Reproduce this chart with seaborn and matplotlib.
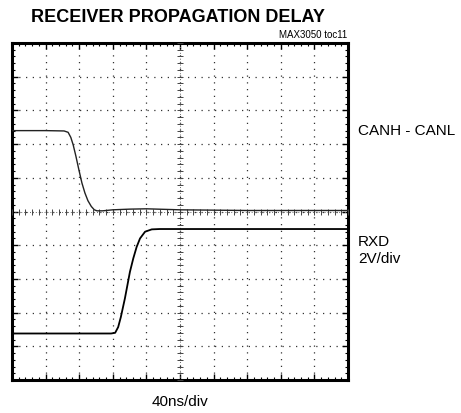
import matplotlib
matplotlib.use("Agg")
import matplotlib.pyplot as plt
import numpy as np
import pandas as pd
import seaborn as sns

# scope screen in divisions: x 0..10 (40ns/div), y -5..5
TIME_CANH = [0, 1.0, 1.55, 1.67, 1.75, 1.82, 1.90, 1.99, 2.08, 2.17, 2.26,
             2.36, 2.45, 2.53, 2.7, 3.0, 3.5, 4.0, 5.0, 6.0, 7.0, 8.0, 9.0, 10.0]
CANH_CANL = [2.40, 2.40, 2.39, 2.35, 2.20, 1.98, 1.65, 1.24, 0.85, 0.55, 0.32,
             0.15, 0.05, 0.02, 0.02, 0.05, 0.07, 0.08, 0.05, 0.04, 0.03, 0.03, 0.03, 0.03]

TIME_RXD = [0, 2.5, 2.95, 3.07, 3.16, 3.24, 3.36, 3.51, 3.61, 3.71, 3.81,
            3.96, 4.16, 4.4, 5, 6, 7, 8, 9, 10]
RXD = [-3.62, -3.62, -3.62, -3.60, -3.43, -3.13, -2.58, -1.79, -1.39, -1.05, -0.80,
       -0.60, -0.53, -0.52, -0.52, -0.52, -0.52, -0.52, -0.52, -0.52]

TITLE = "RECEIVER PROPAGATION DELAY"
TOC = "MAX3050 toc11"
X_LABEL = "40ns/div"

sns.set_style("white")
plt.rcParams["font.family"] = ["Liberation Sans", "DejaVu Sans"]
plt.rcParams["text.color"] = "black"

fig = plt.figure(figsize=(4.61, 4.13), dpi=100)
ax = fig.add_axes([12 / 461, 33 / 413, 336 / 461, 337 / 413])

canh_df = pd.DataFrame({"t": TIME_CANH, "v": CANH_CANL})
rxd_df = pd.DataFrame({"t": TIME_RXD, "v": RXD})
sns.lineplot(data=canh_df, x="t", y="v", ax=ax, color="#222222", lw=1.0, zorder=5)
sns.lineplot(data=rxd_df, x="t", y="v", ax=ax, color="black", lw=1.3, zorder=5)

ax.set_xlim(0, 10)
ax.set_ylim(-5, 5)
ax.set_xticks(np.arange(0, 11, 1))
ax.set_yticks(np.arange(-5, 6, 1))
ax.set_xticks(np.arange(0, 10.01, 0.2), minor=True)
ax.set_yticks(np.arange(-5, 5.01, 0.2), minor=True)
ax.tick_params(which="both", direction="in", labelbottom=False, labelleft=False,
               top=True, right=True, bottom=True, left=True, color="black")
ax.tick_params(which="major", length=4, width=1)
ax.tick_params(which="minor", length=2.5, width=0.8)
for spine in ax.spines.values():
    spine.set_linewidth(2.2)
    spine.set_color("black")

ax.grid(True, which="major", color="#333333", linewidth=0.9,
        linestyle=(0, (1, 4.4)))

# centre graticule with fine tick marks
minor_pos = np.arange(0, 10.01, 0.2)
ax.plot(minor_pos, np.zeros_like(minor_pos), ls="none", marker="|",
        ms=4, mew=0.7, color="#444444", zorder=3)
ax.plot(np.full_like(minor_pos, 5.0), minor_pos - 5, ls="none", marker="_",
        ms=4, mew=0.7, color="#444444", zorder=3)
ax.axhline(0, color="#666666", lw=0.7, ls=(0, (1, 2)), zorder=2)
ax.axvline(5, color="#666666", lw=0.7, ls=(0, (1, 2)), zorder=2)

ax.set_xlabel("")
ax.set_ylabel("")

fig.text(178 / 461, 1 - 17.5 / 413, TITLE, ha="center", va="center",
         fontsize=13, fontweight="bold",
         family=["Liberation Sans Narrow", "Liberation Sans"])
fig.text(347 / 461, 1 - 35.5 / 413, TOC, ha="right", va="center", fontsize=7)
fig.text(358 / 461, 1 - 131 / 413, "CANH - CANL", ha="left", va="center", fontsize=11)
fig.text(358 / 461, 1 - 242 / 413, "RXD", ha="left", va="center", fontsize=11)
fig.text(358 / 461, 1 - 259 / 413, "2V/div", ha="left", va="center", fontsize=11)
fig.text(180 / 461, 1 - 402 / 413, X_LABEL, ha="center", va="center", fontsize=11)

fig.savefig("out.png", dpi=100)
